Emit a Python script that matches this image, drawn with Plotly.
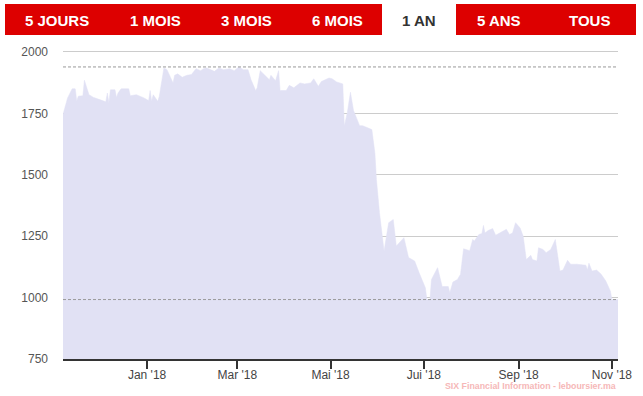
import plotly.graph_objects as go

dates = [
    "2017-11-07", "2017-11-10", "2017-11-13", "2017-11-15", "2017-11-16", "2017-11-17",
    "2017-11-20", "2017-11-21", "2017-11-24", "2017-11-27", "2017-12-01", "2017-12-05",
    "2017-12-06", "2017-12-07", "2017-12-08", "2017-12-11", "2017-12-12", "2017-12-13",
    "2017-12-15", "2017-12-20", "2017-12-21", "2017-12-25", "2017-12-30", "2018-01-02",
    "2018-01-03", "2018-01-04", "2018-01-05", "2018-01-08", "2018-01-09", "2018-01-12",
    "2018-01-14", "2018-01-16", "2018-01-18", "2018-01-19", "2018-01-21", "2018-01-24",
    "2018-01-27", "2018-01-30", "2018-02-02", "2018-02-05", "2018-02-07", "2018-02-09",
    "2018-02-11", "2018-02-14", "2018-02-17", "2018-02-20", "2018-02-24", "2018-02-27",
    "2018-03-02", "2018-03-05", "2018-03-08", "2018-03-10", "2018-03-13", "2018-03-14",
    "2018-03-16", "2018-03-19", "2018-03-22", "2018-03-23", "2018-03-26", "2018-03-28",
    "2018-03-29", "2018-04-02", "2018-04-04", "2018-04-07", "2018-04-11", "2018-04-14",
    "2018-04-18", "2018-04-20", "2018-04-23", "2018-04-25", "2018-04-30", "2018-05-02",
    "2018-05-05", "2018-05-09", "2018-05-10", "2018-05-12", "2018-05-14", "2018-05-16",
    "2018-05-20", "2018-05-22", "2018-05-25", "2018-05-28", "2018-05-30", "2018-05-31",
    "2018-06-02", "2018-06-05", "2018-06-08", "2018-06-11", "2018-06-13", "2018-06-18",
    "2018-06-21", "2018-06-25", "2018-06-28", "2018-07-02", "2018-07-03", "2018-07-05",
    "2018-07-06", "2018-07-10", "2018-07-13", "2018-07-17", "2018-07-18", "2018-07-20",
    "2018-07-23", "2018-07-25", "2018-07-27", "2018-07-31", "2018-08-02", "2018-08-03",
    "2018-08-06", "2018-08-08", "2018-08-09", "2018-08-10", "2018-08-12", "2018-08-15",
    "2018-08-17", "2018-08-20", "2018-08-24", "2018-08-26", "2018-08-28", "2018-08-30",
    "2018-09-02", "2018-09-04", "2018-09-06", "2018-09-09", "2018-09-10", "2018-09-13",
    "2018-09-14", "2018-09-17", "2018-09-19", "2018-09-22", "2018-09-25", "2018-09-28",
    "2018-09-30", "2018-10-03", "2018-10-05", "2018-10-09", "2018-10-15", "2018-10-16",
    "2018-10-17", "2018-10-19", "2018-10-22", "2018-10-25", "2018-10-28", "2018-10-31",
    "2018-11-01", "2018-11-05",
]
prices = [
    1745, 1813, 1850, 1850, 1800, 1820,
    1822, 1885, 1826, 1815, 1806, 1797,
    1833, 1793, 1846, 1846, 1815, 1833,
    1850, 1850, 1822, 1826, 1813, 1802,
    1843, 1799, 1826, 1799, 1820, 1935,
    1928, 1901, 1874, 1905, 1911, 1897,
    1905, 1908, 1932, 1924, 1932, 1935,
    1928, 1921, 1935, 1928, 1932, 1924,
    1939, 1928, 1928, 1887, 1843, 1854,
    1924, 1905, 1887, 1905, 1883, 1924,
    1843, 1843, 1864, 1854, 1874, 1870,
    1874, 1891, 1860, 1880, 1894, 1891,
    1878, 1870, 1698, 1755, 1836, 1762,
    1700, 1700, 1691, 1684, 1589, 1481,
    1345, 1190, 1305, 1318, 1210, 1244,
    1163, 1149, 1100, 1040, 992, 992,
    1074, 1122, 1045, 1045, 1020, 1063,
    1074, 1095, 1199, 1191, 1237, 1230,
    1257, 1261, 1294, 1263, 1273, 1281,
    1254, 1263, 1278, 1257, 1263, 1305,
    1283, 1250, 1155, 1172, 1155, 1149,
    1203, 1196, 1183, 1196, 1237, 1108,
    1112, 1152, 1136, 1136, 1132, 1113,
    1140, 1108, 1112, 1095, 1068, 1027,
    992, 992,
]

y_ticks = [750, 1000, 1250, 1500, 1750, 2000]
x_tick_dates = ["2018-01-01", "2018-03-01", "2018-05-01", "2018-07-01", "2018-09-01", "2018-11-01"]
x_tick_text = ["Jan '18", "Mar '18", "Mai '18", "Jui '18", "Sep '18", "Nov '18"]
buttons = ["5 JOURS", "1 MOIS", "3 MOIS", "6 MOIS", "1 AN", "5 ANS", "TOUS"]
selected = "1 AN"
credit = "SIX Financial Information - leboursier.ma"

# layout geometry (pixels)
W, H = 643, 396
ML, MR, MT, MB = 63, 25, 50, 37
PW = W - ML - MR
PH = H - MT - MB


def px_x(p):
    return (p - ML) / PW


def px_y(p):
    return (H - MB - p) / PH


FONT = "Liberation Sans, Arial, sans-serif"

fig = go.Figure()
fig.add_trace(go.Scatter(
    x=dates, y=prices, mode="lines", fill="tozeroy",
    line=dict(color="#e1e1f4", width=0.5, shape="linear"),
    fillcolor="#e1e1f4", hoverinfo="skip", showlegend=False,
))

ymax, ymin = max(prices), min(prices)
for v in (ymax, ymin):
    fig.add_shape(type="line", xref="paper", yref="y", x0=0, x1=1, y0=v, y1=v,
                  line=dict(color="#9a9a9a", width=1, dash="3px,2px"), layer="above")

RED = "#dd0000"
button_centers = [57, 155, 246, 337, 419, 499, 589]
for x0, x1 in [(5, 382), (456, 636)]:
    fig.add_shape(type="rect", xref="paper", yref="paper",
                  x0=px_x(x0), x1=px_x(x1), y0=px_y(35), y1=px_y(4),
                  fillcolor=RED, line=dict(width=0), layer="above")
for label, cx in zip(buttons, button_centers):
    fig.add_annotation(
        x=px_x(cx), y=px_y(20), xref="paper", yref="paper", text=f"<b>{label}</b>",
        showarrow=False, xanchor="center", yanchor="middle",
        font=dict(family=FONT, size=15,
                  color="#333333" if label == selected else "#ffffff"),
    )

fig.add_annotation(
    x=1, y=px_y(386), xref="paper", yref="paper", text=f"<b>{credit}</b>",
    showarrow=False, xanchor="right", yanchor="middle",
    font=dict(family=FONT, size=8.8, color="#f6b8b8"),
)

fig.update_layout(
    width=W, height=H,
    margin=dict(l=ML, r=MR, t=MT, b=MB, pad=0),
    paper_bgcolor="#ffffff", plot_bgcolor="#ffffff",
    xaxis=dict(
        type="date", range=["2017-11-07", "2018-11-05"],
        tickvals=x_tick_dates, ticktext=x_tick_text,
        showgrid=False, zeroline=False,
        showline=True, linecolor="#333333", linewidth=2,
        ticks="outside", ticklen=8, tickwidth=2, tickcolor="#333333",
        ticklabelstandoff=-4,
        tickfont=dict(family=FONT, size=12, color="#444444"),
        fixedrange=True,
    ),
    yaxis=dict(
        range=[750, 2008], tickvals=y_ticks,
        showgrid=True, gridcolor="#cccccc", gridwidth=1,
        zeroline=False, showline=False, ticks="",
        ticklabelstandoff=14,
        tickfont=dict(family=FONT, size=12, color="#555555"),
        fixedrange=True,
    ),
    font=dict(family=FONT),
)

fig.write_html("out.html")
